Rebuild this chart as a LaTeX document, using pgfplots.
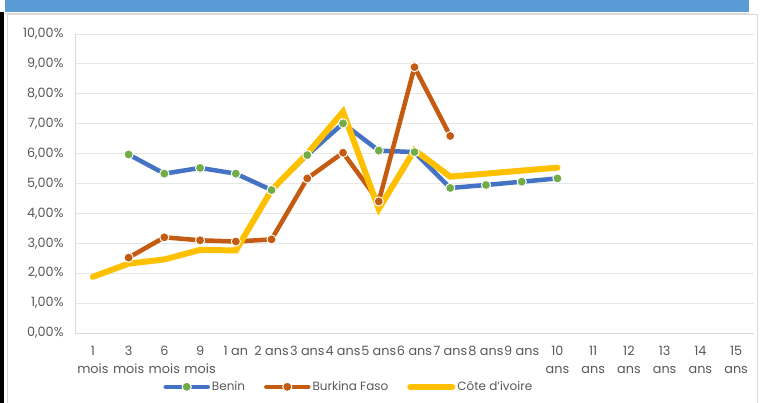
\documentclass[border=0pt]{standalone}
\usepackage{pgfplots}
\pgfplotsset{compat=1.18}
\usepackage{fontspec}
\setmainfont{Poppins}
\definecolor{benin}{HTML}{4472C4}
\definecolor{beningreen}{HTML}{70AD47}
\definecolor{burkina}{HTML}{C55A11}
\definecolor{cote}{HTML}{FFC000}
\definecolor{bluebar}{HTML}{5B9BD5}
\definecolor{framegray}{HTML}{D9D9D9}
\definecolor{gridgray}{HTML}{E6E6E6}
\definecolor{txt}{HTML}{595959}
\begin{document}
\begin{tikzpicture}
\useasboundingbox (0pt,0pt) rectangle (763pt,403pt);
\fill[white] (0pt,0pt) rectangle (763pt,403pt);
\fill[black] (0pt,0pt) rectangle (4pt,391pt);
\fill[bluebar] (5pt,391pt) rectangle (749pt,403pt);
\draw[framegray, line width=1pt] (5pt,389.5pt) -- (749pt,389.5pt);
\draw[framegray, line width=1pt] (7.5pt,-5pt) -- (7.5pt,388pt) -- (757.5pt,388pt) -- (757.5pt,-5pt);
\begin{axis}[
  at={(75pt,70pt)}, anchor=south west,
  scale only axis, width=679pt, height=299pt,
  xmin=-0.5, xmax=18.5, ymin=0, ymax=10,
  axis lines=left, axis line style={framegray, line width=0.8pt, -},
  ymajorgrids, major grid style={gridgray, line width=0.9pt},
  major tick length=0pt,
  ytick={0,1,...,10},
  yticklabels={{0,00\%},{1,00\%},{2,00\%},{3,00\%},{4,00\%},{5,00\%},{6,00\%},{7,00\%},{8,00\%},{9,00\%},{10,00\%}},
  xtick={0,1,...,18},
  xticklabels={{1\\mois},{3\\mois},{6\\mois},{9\\mois},{1 an},{2 ans},{3 ans},{4 ans},{5 ans},{6 ans},{7 ans},{8 ans},{9 ans},{10\\ans},{11\\ans},{12\\ans},{13\\ans},{14\\ans},{15\\ans}},
  ticklabel style={font=\fontsize{12.8}{18}\selectfont, text=txt},
  xticklabel style={align=center, anchor=north, yshift=-10pt},
  yticklabel style={anchor=east, xshift=-8pt},
  legend style={at={(0.13,-0.18)}, anchor=west, draw=none, fill=none, inner sep=0pt,
    legend columns=-1, font=\fontsize{12}{14}\selectfont, text=txt,
    /tikz/every even column/.append style={column sep=17pt},
    cells={anchor=west}},
  legend image code/.code={\draw[mark repeat=2,mark phase=2,#1] plot coordinates {(0pt,0pt)(21pt,0pt)(42pt,0pt)};},
  clip=false,
]
\addplot[benin, line width=4.5pt, line cap=round, mark=*, mark size=4.6pt,
  mark options={fill=beningreen, draw=white, line width=1pt}]
  coordinates {(1,5.97)(2,5.33)(3,5.52)(4,5.33)(5,4.78)(6,5.95)(7,7.01)(8,6.10)(9,6.05)(10,4.85)(11,4.95)(12,5.06)(13,5.17)};
\addlegendentry{Benin}
\addplot[burkina, line width=4.5pt, line cap=round, mark=*, mark size=4.6pt,
  mark options={fill=burkina, draw=white, line width=1pt}]
  coordinates {(1,2.52)(2,3.20)(3,3.10)(4,3.06)(5,3.13)(6,5.17)(7,6.03)(8,4.40)(9,8.89)(10,6.59)};
\addlegendentry{Burkina Faso}
\addplot[cote, line width=6pt, line cap=round]
  coordinates {(0,1.88)(1,2.32)(2,2.46)(3,2.78)(4,2.76)(5,4.78)(6,6.00)(7,7.40)(8,4.15)(9,6.12)(10,5.23)(11,5.33)(12,5.43)(13,5.53)};
\addlegendentry{Côte d'ivoire}
\end{axis}
\end{tikzpicture}
\end{document}
